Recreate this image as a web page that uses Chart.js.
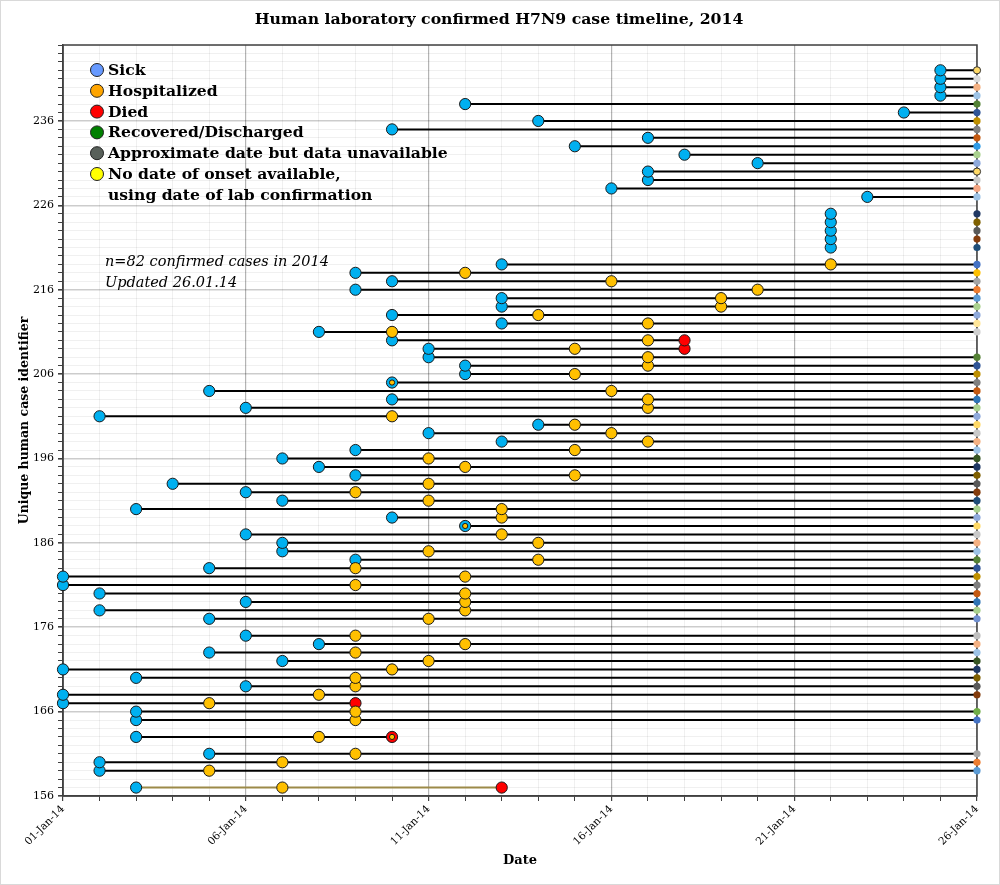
<!DOCTYPE html>
<html>
<head>
<meta charset="utf-8">
<title>H7N9 case timeline 2014</title>
<script src="https://cdn.jsdelivr.net/npm/chart.js@4.4.1/dist/chart.umd.min.js"></script>
<style>
  body { margin: 0; background: #fff; }
  #wrap { width: 1000px; height: 885px; position: relative; }
</style>
</head>
<body>
<div id="wrap"><canvas id="timeline"></canvas></div>
<script>
// case ids and event days (day of January 2014)
const caseIds = [
  157, 159, 160, 161, 163, 165, 166, 167, 168, 169, 170, 171, 172, 173, 174, 175,
  177, 178, 179, 180, 181, 182, 183, 184, 185, 186, 187, 188, 189, 190, 191, 192, 193, 194, 195, 196, 197, 198,
  199, 200, 201, 202, 203, 204, 205, 206, 207, 208, 209, 210, 211, 212, 213, 214, 215, 216, 217, 218, 219,
  221, 222, 223, 224, 225,
  227, 228, 229, 230, 231, 232, 233, 234, 235, 236, 237, 238, 239, 240, 241, 242
];
const sickDay = [
  3, 2, 2, 5, 3, 3, 3, 1, 1, 6, 3, 1, 7, 5, 8, 6,
  5, 2, 6, 2, 1, 1, 5, 9, 7, 7, 6, 12, 10, 3, 7, 6, 4, 9, 8, 7, 9, 13,
  11, 14, 2, 6, 10, 5, 10, 12, 12, 11, 11, 10, 8, 13, 10, 13, 13, 9, 10, 9, 13,
  22, 22, 22, 22, 22,
  23, 16, 17, 17, 20, 18, 15, 17, 10, 14, 24, 12, 25, 25, 25, 25
];
const hospDay = [
  7, 5, 7, 9, 8, 9, 9, 5, 8, 9, 9, 10, 11, 9, 12, 9,
  11, 12, 12, 12, 9, 12, 9, 14, 11, 14, 13, 12, 13, 13, 11, 9, 11, 15, 12, 11, 15, 17,
  16, 15, 10, 17, 17, 16, 10, 15, 17, 17, 15, 17, 10, 17, 14, 19, 19, 20, 16, 12, 22,
  null, null, null, null, null,
  null, null, null, null, null, null, null, null, null, null, null, null, null, null, null, null
];
// a second hospital record on the day of death
const extraHosp = [{id: 163, day: 10}];
const diedDay = {157: 13, 163: 10, 167: 9, 209: 18, 210: 18};
const noLineIds = [221, 222, 223, 224, 225];
const lastDay = 26;

const xTickLabels = ['01-Jan-14', '06-Jan-14', '11-Jan-14', '16-Jan-14', '21-Jan-14', '26-Jan-14'];
const legendLabels = ['Sick', 'Hospitalized', 'Died', 'Recovered/Discharged',
  'Approximate date but data unavailable', 'No date of onset available,'];
const legendExtraLine = 'using date of lab confirmation';
const noteLines = ['n=82 confirmed cases in 2014', 'Updated 26.01.14'];
const chartTitle = 'Human laboratory confirmed H7N9 case timeline, 2014';

// styles
const legendColors = ['#6699ff', '#ffa500', '#ff0000', '#008000', '#58605a', '#ffff00'];
const endColors = [
  null, '#5b9bd5', '#ed7d31', '#a5a5a5', null, '#4472c4', '#70ad47', null, '#843c0c', '#595959', '#7f6000', '#1f3864', '#375623', '#9dc3e6', '#f4b183', '#bfbfbf',
  '#6f8fd0', '#a9d18e', '#2e75b6', '#c55a11', '#7f7f7f', '#bf9000', '#2f5597', '#548235', '#9dc3e6', '#f4b183', '#c9c9c9', '#ffd966', '#8faadc', '#a9d18e', '#1f4e79', '#843c0c', '#595959', '#7f6000', '#1f3864', '#375623', '#9dc3e6', '#f4b183',
  '#c9c9c9', '#ffd966', '#8faadc', '#a9d18e', '#2e75b6', '#c55a11', '#7f7f7f', '#bf9000', '#2f5597', '#548235', null, null, '#d0d0d0', '#ffe699', '#8faadc', '#a9d18e', '#5b9bd5', '#ed7d31', '#a5a5a5', '#ffc000', '#4472c4',
  '#1f4e79', '#843c0c', '#595959', '#7f6000', '#203864',
  '#9dc3e6', '#f4a582', '#c9c9c9', '#ffd966', '#8faadc', '#a9d18e', '#2e9be6', '#c55a11', '#7f7f7f', '#bf9000', '#2f5597', '#548235', '#9dc3e6', '#f4b183', '#d9d9d9', '#ffd966'
];
const outlinedEnds = [230, 242];
const lineColorOverride = {157: '#9c8a48'};

const SERIF = "'DejaVu Serif', Georgia, serif";
Chart.defaults.font.family = SERIF;
Chart.defaults.color = '#000';

// one line per case, from onset to death or to the last day
const lineSets = caseIds.map((id, i) => {
  const died = diedDay[id];
  const start = sickDay[i] !== null ? sickDay[i] : hospDay[i];
  const end = died ? died : lastDay;
  const noLine = noLineIds.includes(id);
  const pts = noLine ? [{x: lastDay, y: id}] : [{x: start, y: id}, {x: end, y: id}];
  const endR = died ? 0 : 3.6;
  return {
    data: pts,
    showLine: !noLine,
    borderColor: lineColorOverride[id] || '#000',
    borderWidth: 2,
    pointRadius: pts.map((p, k) => (k === pts.length - 1 ? endR : 0)),
    pointBackgroundColor: endColors[i] || '#000',
    pointBorderColor: '#333',
    pointBorderWidth: outlinedEnds.includes(id) ? 1 : 0,
    clip: false,
    order: 4
  };
});

const sickPoints = caseIds.map((id, i) => ({x: sickDay[i], y: id})).filter(p => p.x !== null);
const diedPoints = caseIds.filter(id => diedDay[id]).map(id => ({x: diedDay[id], y: id}));
// hospital markers shrink when they share a day with another event
const hospPoints = caseIds.map((id, i) => ({x: hospDay[i], y: id}))
  .concat(extraHosp.map(h => ({x: h.day, y: h.id})))
  .filter(p => p.x !== null)
  .map(p => {
    const i = caseIds.indexOf(p.y);
    return {...p, small: p.x === sickDay[i] || p.x === diedDay[p.y]};
  });

const data = {
  datasets: [
    ...lineSets,
    {
      label: 'Sick',
      data: sickPoints,
      backgroundColor: '#00b0f0',
      borderColor: '#1a1a1a',
      borderWidth: 1,
      pointRadius: 5.6,
      clip: false,
      order: 3
    },
    {
      label: 'Died',
      data: diedPoints,
      backgroundColor: '#ff0000',
      borderColor: '#1a1a1a',
      borderWidth: 1,
      pointRadius: 5.6,
      clip: false,
      order: 2
    },
    {
      label: 'Hospitalized',
      data: hospPoints,
      backgroundColor: '#ffc000',
      borderColor: '#1a1a1a',
      borderWidth: 1,
      pointRadius: ctx => (ctx.raw && ctx.raw.small ? 2.6 : 5.6),
      clip: false,
      order: 1
    }
  ]
};

const overlay = {
  id: 'overlay',
  beforeDraw(chart) {
    const ctx = chart.ctx;
    ctx.save();
    ctx.fillStyle = '#fff';
    ctx.fillRect(0, 0, chart.width, chart.height);
    ctx.strokeStyle = '#d9d9d9';
    ctx.lineWidth = 1;
    ctx.strokeRect(0.5, 0.5, chart.width - 1, chart.height - 1);
    ctx.restore();
  },
  beforeDatasetsDraw(chart) {
    const {ctx, chartArea: a} = chart;
    ctx.save();
    ctx.strokeStyle = '#404040';
    ctx.lineWidth = 1.5;
    ctx.strokeRect(a.left, a.top, a.right - a.left, a.bottom - a.top);
    ctx.restore();
  },
  afterDraw(chart) {
    const {ctx, chartArea: a} = chart;
    ctx.save();
    // title
    ctx.font = 'bold 15.7px ' + SERIF;
    ctx.fillStyle = '#000';
    ctx.textAlign = 'center';
    ctx.textBaseline = 'middle';
    ctx.fillText(chartTitle, 499, 20);

    // legend
    ctx.textAlign = 'left';
    ctx.font = 'bold 15.6px ' + SERIF;
    legendLabels.forEach((txt, k) => {
      const y = a.top + 25 + k * 20.8;
      ctx.beginPath();
      ctx.arc(a.left + 34, y, 6.5, 0, Math.PI * 2);
      ctx.fillStyle = legendColors[k];
      ctx.fill();
      ctx.lineWidth = 1;
      ctx.strokeStyle = '#222';
      ctx.stroke();
      ctx.fillStyle = '#000';
      ctx.fillText(txt, a.left + 45, y + 1);
    });
    ctx.fillText(legendExtraLine, a.left + 45, a.top + 25 + 6 * 20.8 + 1);

    // notes
    ctx.font = 'italic 14.5px ' + SERIF;
    noteLines.forEach((txt, k) => {
      ctx.fillText(txt, a.left + 42, a.top + 217 + k * 21);
    });
    ctx.restore();
  }
};

const config = {
  type: 'scatter',
  data: data,
  plugins: [overlay],
  options: {
    responsive: true,
    maintainAspectRatio: false,
    animation: false,
    layout: {
      padding: {top: 45, right: 23, left: 0, bottom: 0}
    },
    plugins: {
      legend: {display: false},
      title: {display: false},
      tooltip: {enabled: true}
    },
    scales: {
      x: {
        type: 'linear',
        min: 1,
        max: lastDay,
        afterFit: scale => { scale.height = 89; },
        title: {
          display: true,
          text: 'Date',
          font: {size: 13, weight: 'bold'},
          padding: {top: 0, bottom: 17}
        },
        ticks: {
          stepSize: 1,
          autoSkip: false,
          minRotation: 45,
          maxRotation: 45,
          padding: 2,
          font: {size: 10.5},
          callback: v => ((v - 1) % 5 === 0 ? xTickLabels[(v - 1) / 5] : '')
        },
        grid: {
          color: ctx => ((ctx.tick.value - 1) % 5 === 0 ? '#b4b4b4' : 'rgba(0,0,0,0.06)'),
          lineWidth: ctx => ((ctx.tick.value - 1) % 5 === 0 ? 1.2 : 1),
          tickColor: '#404040',
          tickLength: 5
        },
        border: {color: '#404040', width: 1.5}
      },
      y: {
        type: 'linear',
        min: 156,
        max: 245,
        afterFit: scale => { scale.width = 63; },
        title: {
          display: true,
          text: 'Unique human case identifier',
          font: {size: 12.5, weight: 'bold'},
          padding: {top: 17, bottom: 0}
        },
        ticks: {
          stepSize: 1,
          autoSkip: false,
          padding: 4,
          font: {size: 11},
          callback: v => ((v - 156) % 10 === 0 ? String(v) : '')
        },
        grid: {
          color: ctx => ((ctx.tick.value - 156) % 10 === 0 ? 'rgba(0,0,0,0.2)' : 'rgba(0,0,0,0.06)'),
          lineWidth: ctx => ((ctx.tick.value - 156) % 10 === 0 ? 1.6 : 1),
          tickColor: '#404040',
          tickLength: 5
        },
        border: {color: '#404040', width: 1.5}
      }
    }
  }
};

new Chart(document.getElementById('timeline').getContext('2d'), config);
</script>
</body>
</html>
